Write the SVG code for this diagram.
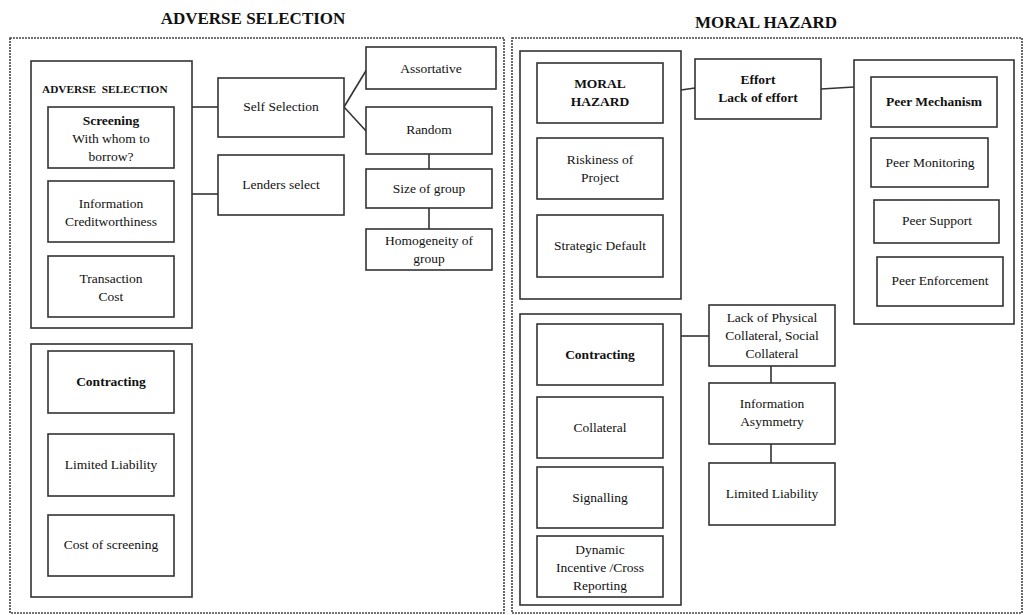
<svg xmlns="http://www.w3.org/2000/svg" width="1024" height="615" viewBox="0 0 1024 615">
  <style>
    .frame { fill: none; stroke: #444; stroke-width: 1.6; stroke-dasharray: 2 1; }
    .box { fill: #fff; stroke: #333; stroke-width: 1.6; }
    .group { fill: none; stroke: #333; stroke-width: 1.6; }
    .link { fill: none; stroke: #333; stroke-width: 1.6; }
    text { font-family: "Liberation Serif", "Times New Roman", serif; font-size: 13.5px; fill: #111; text-anchor: middle; }
    .b { font-weight: bold; }
    .title { font-size: 17px; font-weight: bold; }
    .small { font-size: 11.3px; font-weight: bold; text-anchor: start; }
  </style>
  <rect width="1024" height="615" fill="#fff"/>

  <!-- panel titles and dotted frames -->
  <g id="adverse-panel">
    <text class="title" x="253" y="24">ADVERSE SELECTION</text>
    <rect class="frame" x="10" y="38" width="494" height="575"/>
  </g>
  <g id="moral-panel">
    <text class="title" x="766" y="28">MORAL HAZARD</text>
    <rect class="frame" x="512" y="38" width="510" height="575"/>
  </g>

  <!-- connectors -->
  <g id="connectors">
    <line class="link" x1="192" y1="107" x2="218" y2="107"/>
    <line class="link" x1="192" y1="194" x2="218" y2="194"/>
    <line class="link" x1="344" y1="107" x2="367" y2="69"/>
    <line class="link" x1="344" y1="107" x2="367" y2="132"/>
    <line class="link" x1="429" y1="154" x2="429" y2="169"/>
    <line class="link" x1="429" y1="208" x2="429" y2="229"/>
    <line class="link" x1="681" y1="90" x2="695" y2="88"/>
    <line class="link" x1="821" y1="89" x2="854" y2="87"/>
    <line class="link" x1="681" y1="336" x2="709" y2="336"/>
    <line class="link" x1="771" y1="366" x2="771" y2="383"/>
    <line class="link" x1="771" y1="444" x2="771" y2="463"/>
  </g>

  <!-- adverse selection group -->
  <g id="as-group">
    <rect class="group" x="31" y="61" width="161" height="267"/>
    <text class="small" x="42" y="93" xml:space="preserve">ADVERSE  SELECTION</text>
  </g>
  <g id="screening">
    <rect class="box" x="48" y="107" width="126" height="61"/>
    <text class="b" x="111" y="125">Screening</text>
    <text x="111" y="143">With whom to</text>
    <text x="111" y="161">borrow?</text>
  </g>
  <g id="information">
    <rect class="box" x="48" y="181" width="126" height="61"/>
    <text x="111" y="208">Information</text>
    <text x="111" y="226">Creditworthiness</text>
  </g>
  <g id="transaction-cost">
    <rect class="box" x="48" y="256" width="126" height="61"/>
    <text x="111" y="283">Transaction</text>
    <text x="111" y="301">Cost</text>
  </g>

  <!-- adverse selection contracting group -->
  <g id="as-contracting-group">
    <rect class="group" x="31" y="344" width="161" height="253"/>
  </g>
  <g id="as-contracting">
    <rect class="box" x="48" y="351" width="126" height="62"/>
    <text class="b" x="111" y="386">Contracting</text>
  </g>
  <g id="as-limited-liability">
    <rect class="box" x="48" y="434" width="126" height="62"/>
    <text x="111" y="469">Limited Liability</text>
  </g>
  <g id="cost-of-screening">
    <rect class="box" x="48" y="515" width="126" height="61"/>
    <text x="111" y="549">Cost of screening</text>
  </g>

  <g id="self-selection">
    <rect class="box" x="218" y="78" width="126" height="59"/>
    <text x="281" y="111">Self Selection</text>
  </g>
  <g id="lenders-select">
    <rect class="box" x="218" y="155" width="126" height="60"/>
    <text x="281" y="189">Lenders select</text>
  </g>
  <g id="assortative">
    <rect class="box" x="366" y="47" width="130" height="42"/>
    <text x="431" y="73">Assortative</text>
  </g>
  <g id="random">
    <rect class="box" x="366" y="107" width="126" height="47"/>
    <text x="429" y="134">Random</text>
  </g>
  <g id="size-of-group">
    <rect class="box" x="366" y="169" width="126" height="39"/>
    <text x="429" y="193">Size of group</text>
  </g>
  <g id="homogeneity">
    <rect class="box" x="366" y="229" width="126" height="41"/>
    <text x="429" y="245">Homogeneity of</text>
    <text x="429" y="263">group</text>
  </g>

  <!-- moral hazard group -->
  <g id="mh-group">
    <rect class="group" x="520" y="51" width="161" height="248"/>
  </g>
  <g id="moral-hazard">
    <rect class="box" x="537" y="63" width="126" height="60"/>
    <text class="b" x="600" y="88">MORAL</text>
    <text class="b" x="600" y="106">HAZARD</text>
  </g>
  <g id="riskiness">
    <rect class="box" x="537" y="138" width="126" height="61"/>
    <text x="600" y="164">Riskiness of</text>
    <text x="600" y="182">Project</text>
  </g>
  <g id="strategic-default">
    <rect class="box" x="537" y="215" width="126" height="62"/>
    <text x="600" y="250">Strategic Default</text>
  </g>

  <!-- moral hazard contracting group -->
  <g id="mh-contracting-group">
    <rect class="group" x="520" y="314" width="161" height="291"/>
  </g>
  <g id="mh-contracting">
    <rect class="box" x="537" y="324" width="126" height="61"/>
    <text class="b" x="600" y="359">Contracting</text>
  </g>
  <g id="collateral">
    <rect class="box" x="537" y="397" width="126" height="61"/>
    <text x="600" y="432">Collateral</text>
  </g>
  <g id="signalling">
    <rect class="box" x="537" y="467" width="126" height="61"/>
    <text x="600" y="502">Signalling</text>
  </g>
  <g id="dynamic-incentive">
    <rect class="box" x="537" y="536" width="126" height="61"/>
    <text x="600" y="554">Dynamic</text>
    <text x="600" y="572">Incentive /Cross</text>
    <text x="600" y="590">Reporting</text>
  </g>

  <g id="effort">
    <rect class="box" x="695" y="59" width="126" height="60"/>
    <text class="b" x="758" y="84">Effort</text>
    <text class="b" x="758" y="102">Lack of effort</text>
  </g>

  <!-- peer mechanism group -->
  <g id="peer-group">
    <rect class="group" x="854" y="60" width="160" height="264"/>
  </g>
  <g id="peer-mechanism">
    <rect class="box" x="871" y="77" width="126" height="50"/>
    <text class="b" x="934" y="106">Peer Mechanism</text>
  </g>
  <g id="peer-monitoring">
    <rect class="box" x="871" y="138" width="117" height="49"/>
    <text x="930" y="167">Peer Monitoring</text>
  </g>
  <g id="peer-support">
    <rect class="box" x="874" y="200" width="125" height="43"/>
    <text x="937" y="225">Peer Support</text>
  </g>
  <g id="peer-enforcement">
    <rect class="box" x="877" y="257" width="126" height="49"/>
    <text x="940" y="285">Peer Enforcement</text>
  </g>

  <g id="lack-of-collateral">
    <rect class="box" x="709" y="305" width="126" height="61"/>
    <text x="772" y="322">Lack of Physical</text>
    <text x="772" y="340">Collateral, Social</text>
    <text x="772" y="358">Collateral</text>
  </g>
  <g id="information-asymmetry">
    <rect class="box" x="709" y="383" width="126" height="61"/>
    <text x="772" y="408">Information</text>
    <text x="772" y="426">Asymmetry</text>
  </g>
  <g id="mh-limited-liability">
    <rect class="box" x="709" y="463" width="126" height="62"/>
    <text x="772" y="498">Limited Liability</text>
  </g>
</svg>
